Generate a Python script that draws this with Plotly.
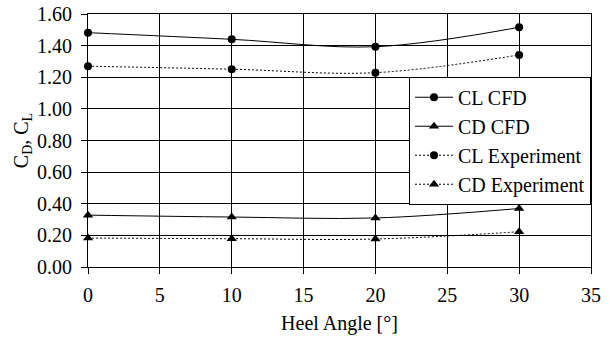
import plotly.graph_objects as go

heel_angle = [0, 10, 20, 30]
cl_cfd = [1.482, 1.440, 1.393, 1.516]
cd_cfd = [0.328, 0.316, 0.310, 0.370]
cl_exp = [1.270, 1.251, 1.229, 1.341]
cd_exp = [0.183, 0.179, 0.177, 0.223]

x_ticks = [0, 5, 10, 15, 20, 25, 30, 35]
y_ticks = [0.0, 0.2, 0.4, 0.6, 0.8, 1.0, 1.2, 1.4, 1.6]

FONT = "Liberation Serif"

fig = go.Figure()

def add(name, y, symbol, dash):
    fig.add_trace(go.Scatter(
        x=heel_angle, y=y, name=name, mode="lines+markers",
        line=dict(color="black", width=1, shape="spline", smoothing=1, dash=dash),
        marker=dict(symbol=symbol, color="black", size=8 if symbol == "circle" else 9),
        cliponaxis=False,
    ))

add("CL CFD", cl_cfd, "circle", "solid")
add("CD CFD", cd_cfd, "triangle-up", "solid")
add("CL Experiment", cl_exp, "circle", "2px,2px")
add("CD Experiment", cd_exp, "triangle-up", "2px,2px")

fig.update_layout(
    template="none",
    width=610, height=340,
    margin=dict(l=88, r=19, t=14, b=73, autoexpand=False),
    paper_bgcolor="white", plot_bgcolor="white",
    font=dict(family=FONT, size=20, color="black"),
    showlegend=True,
    hovermode=False,
    legend=dict(
        x=1, xanchor="right", y=0.752, yanchor="top",
        bgcolor="white", bordercolor="black", borderwidth=1,
        font=dict(family=FONT, size=20, color="black"),
        itemwidth=38, tracegroupgap=0,
    ),
)

fig.update_xaxes(
    automargin=False,
    range=[0, 35], tickvals=x_ticks, ticktext=[str(v) for v in x_ticks],
    showgrid=True, gridcolor="black", gridwidth=1,
    showline=True, linecolor="black", linewidth=1, mirror=True,
    zeroline=False, ticks="outside", ticklen=6, tickcolor="black", tickwidth=1,
    ticklabelstandoff=4,
    tickfont=dict(family=FONT, size=20),
    title=dict(text="Heel Angle [°]", font=dict(family=FONT, size=20), standoff=10),
)
fig.update_yaxes(
    automargin=False,
    range=[0, 1.6], tickvals=y_ticks, ticktext=[f"{v:.2f}" for v in y_ticks],
    showgrid=True, gridcolor="black", gridwidth=1,
    showline=True, linecolor="black", linewidth=1, mirror=True,
    zeroline=False, ticks="outside", ticklen=6, tickcolor="black", tickwidth=1,
    ticklabelstandoff=5,
    tickfont=dict(family=FONT, size=20),
    title=dict(text="C<sub>D</sub>, C<sub>L</sub>", font=dict(family=FONT, size=20), standoff=3),
)

fig.write_html(
    "out.html",
    config={"displayModeBar": False},
    post_script="document.body.style.margin='0';document.body.style.overflow='hidden';",
)
